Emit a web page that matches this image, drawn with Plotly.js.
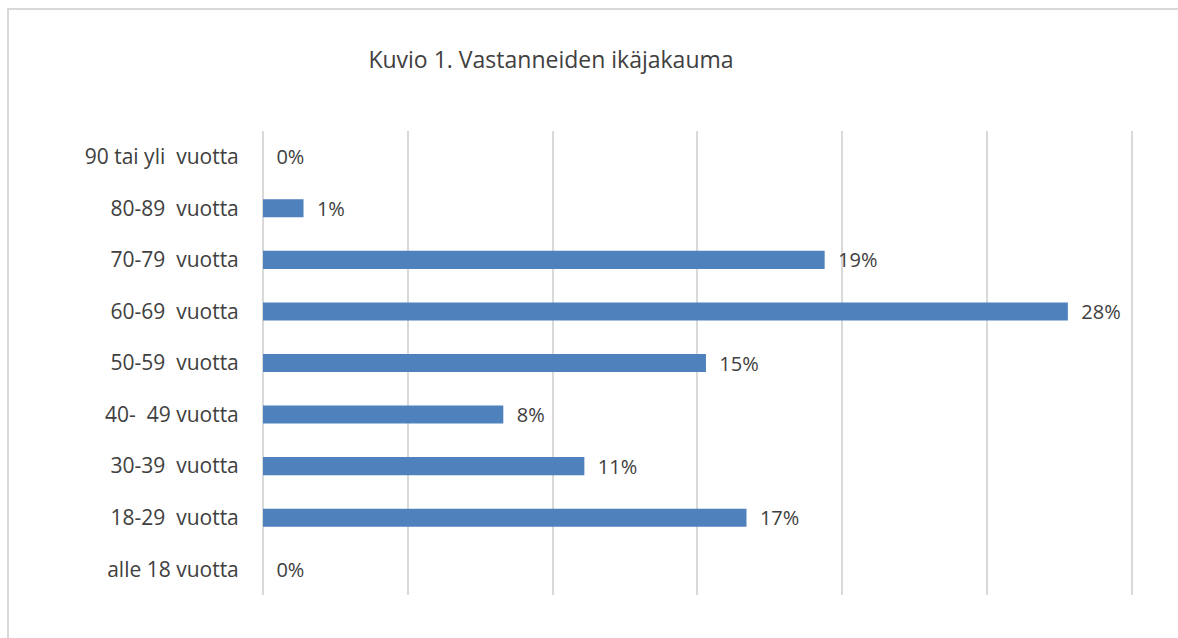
<!DOCTYPE html>
<html>
<head>
<meta charset="utf-8">
<script src="https://cdn.plot.ly/plotly-3.0.1.min.js"></script>
<style>
  html, body { margin: 0; padding: 0; background: #ffffff; overflow: hidden; }
  #frame { position: absolute; left: 7px; top: 8px; width: 1300px; height: 800px; border: 2px solid #d9d9d9; box-sizing: border-box; }
  #chart { position: absolute; left: 0; top: 0; width: 1178px; height: 638px; }
</style>
</head>
<body>
<div id="frame"></div>
<div id="chart"></div>
<script>
const categories = [
  "alle 18 vuotta",
  "18-29\u00a0 vuotta",
  "30-39\u00a0 vuotta",
  "40-\u00a0 49 vuotta",
  "50-59\u00a0 vuotta",
  "60-69\u00a0 vuotta",
  "70-79\u00a0 vuotta",
  "80-89\u00a0 vuotta",
  "90 tai yli\u00a0 vuotta"
];
const shares = [0, 0.167, 0.111, 0.083, 0.153, 0.278, 0.194, 0.014, 0];
const titleText = "Kuvio 1. Vastanneiden ikäjakauma";

const trace = {
  type: "bar",
  orientation: "h",
  y: categories,
  x: shares,
  marker: { color: "#4f81bd" },
  texttemplate: "\u00a0\u00a0%{x:.0%}",
  textposition: "outside",
  constraintext: "none",
  cliponaxis: false,
  textfont: { family: "Open Sans, sans-serif", size: 20, color: "#404040" },
  hoverinfo: "skip"
};

const layout = {
  width: 1178,
  height: 638,
  paper_bgcolor: "rgba(0,0,0,0)",
  plot_bgcolor: "rgba(0,0,0,0)",
  margin: { l: 263, r: 45, t: 131, b: 43, pad: 0 },
  showlegend: false,
  bargap: 0.65,
  title: {
    text: titleText,
    font: { family: "Open Sans, sans-serif", size: 23, color: "#404040" },
    x: 551 / 1178,
    xref: "container",
    xanchor: "center",
    y: 1 - 60 / 638,
    yref: "container",
    yanchor: "middle"
  },
  xaxis: {
    range: [0, 0.3005],
    dtick: 0.05,
    showticklabels: false,
    showgrid: true,
    gridcolor: "#d9d9d9",
    gridwidth: 2,
    zeroline: true,
    zerolinecolor: "#d9d9d9",
    zerolinewidth: 2,
    showline: false,
    fixedrange: true
  },
  yaxis: {
    type: "category",
    showgrid: false,
    zeroline: false,
    showline: false,
    ticks: "outside",
    ticklen: 19,
    tickcolor: "rgba(0,0,0,0)",
    tickfont: { family: "Open Sans, sans-serif", size: 21, color: "#404040" },
    fixedrange: true
  }
};

Plotly.newPlot("chart", [trace], layout, { displayModeBar: false, staticPlot: true });
</script>
</body>
</html>
